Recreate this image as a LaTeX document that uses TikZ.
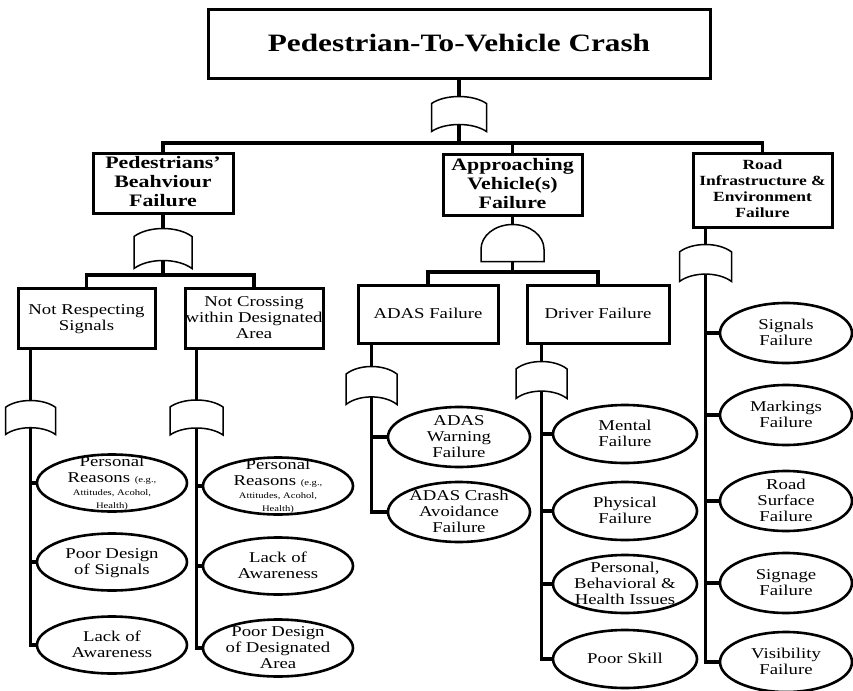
\documentclass[tikz,border=0pt]{standalone}
\usepackage{fontspec}
\setmainfont{Liberation Serif}[FakeStretch=1.25]
\usetikzlibrary{shapes.geometric}

\newcommand{\gtxt}[1]{\makebox[0pt]{\smash{\raisebox{-0.3em}{\begin{tabular}{@{}c@{}}#1\end{tabular}}}}}
\newcommand{\tinytxt}[1]{{\fontsize{8.5}{10}\selectfont #1}}

\tikzset{
  conn/.style={line width=3.2pt},
  box/.style={draw, line width=3pt, fill=white, inner sep=0pt},
  mainbox/.style={box, font=\bfseries\fontsize{17.5}{19}\selectfont},
  subbox/.style={box, font=\fontsize{15}{16}\selectfont},
  leaf/.style={draw, ellipse, line width=2.6pt, fill=white, inner sep=0pt, minimum height=58pt, font=\fontsize{15}{16}\selectfont},
  gate/.style={line width=1.5pt, fill=white},
  pics/orgate/.style args={#1/#2}{code={
    \draw[gate] (-#1/2,#2/2) -- (-#1/2,-3*#2/10) .. controls (-#1/4,-17*#2/30) and (#1/4,-17*#2/30) .. (#1/2,-3*#2/10) -- (#1/2,#2/2) .. controls (#1/4,7*#2/30) and (-#1/4,7*#2/30) .. (-#1/2,#2/2) -- cycle;
  }},
  pics/andgate/.style args={#1/#2}{code={
    \draw[gate] (-#1/2,#2/2) -- (-#1/2,#2/6) arc[start angle=180, end angle=360, x radius=#1/2, y radius=2*#2/3] -- (#1/2,#2/2) -- cycle;
  }},
}

\begin{document}
\begin{tikzpicture}[x=1pt, y=-1pt]

\useasboundingbox (0,0) rectangle (853,690);

\node[box, minimum width=502pt, minimum height=69pt, font=\bfseries\fontsize{25}{28}\selectfont] (crash) at (459,44.5) {\gtxt{Pedestrian-To-Vehicle Crash}};

\node[mainbox, minimum width=140pt, minimum height=60pt] (pbf) at (163,183) {\gtxt{Pedestrians'\\Beahviour\\Failure}};
\node[mainbox, minimum width=139pt, minimum height=61pt] (avf) at (512.5,184.5) {\gtxt{Approaching\\Vehicle(s)\\Failure}};
\node[box, minimum width=139pt, minimum height=74pt, font=\bfseries\fontsize{14}{16}\selectfont] (rief) at (762.5,190) {\gtxt{Road\\Infrastructure \&\\Environment\\Failure}};

\node[subbox, minimum width=137pt, minimum height=60pt] (nrs) at (86.5,318) {\gtxt{Not Respecting\\Signals}};
\node[subbox, minimum width=138pt, minimum height=60pt] (ncd) at (254,318) {\gtxt{Not Crossing\\within Designated\\Area}};
\node[subbox, minimum width=140pt, minimum height=58pt] (adas) at (428,314) {\gtxt{ADAS Failure}};
\node[subbox, minimum width=142pt, minimum height=58pt] (drv) at (598,314) {\gtxt{Driver Failure}};

\node[leaf, minimum width=150pt, minimum height=57pt] (nr1) at (112,483) {\gtxt{Personal\\Reasons \tinytxt{(e.g.,}\\[-3pt]\tinytxt{Attitudes, Acohol,}\\[-3pt]\tinytxt{Health)}}};
\node[leaf, minimum width=150pt, minimum height=57pt] (nr2) at (112,562) {\gtxt{Poor Design\\of Signals}};
\node[leaf, minimum width=150pt, minimum height=57pt] (nr3) at (112,645) {\gtxt{Lack of\\Awareness}};

\node[leaf, minimum width=150pt, minimum height=57pt] (nc1) at (278,486) {\gtxt{Personal\\Reasons \tinytxt{(e.g.,}\\[-3pt]\tinytxt{Attitudes, Acohol,}\\[-3pt]\tinytxt{Health)}}};
\node[leaf, minimum width=150pt, minimum height=57pt] (nc2) at (278,566) {\gtxt{Lack of\\Awareness}};
\node[leaf, minimum width=150pt, minimum height=57pt] (nc3) at (278,648) {\gtxt{Poor Design\\of Designated\\Area}};

\node[leaf, minimum width=142pt, minimum height=60pt] (ad1) at (459,437) {\gtxt{ADAS\\Warning\\Failure}};
\node[leaf, minimum width=142pt, minimum height=60pt] (ad2) at (459,512) {\gtxt{ADAS Crash\\Avoidance\\Failure}};

\node[leaf, minimum width=144pt] (dr1) at (625,434) {\gtxt{Mental\\Failure}};
\node[leaf, minimum width=144pt] (dr2) at (625,511) {\gtxt{Physical\\Failure}};
\node[leaf, minimum width=144pt] (dr3) at (625,584) {\gtxt{Personal,\\Behavioral \&\\Health Issues}};
\node[leaf, minimum width=144pt] (dr4) at (625,659) {\gtxt{Poor Skill}};

\node[leaf, minimum width=132pt, minimum height=60pt] (rf1) at (786,333) {\gtxt{Signals\\Failure}};
\node[leaf, minimum width=132pt, minimum height=60pt] (rf2) at (786,415) {\gtxt{Markings\\Failure}};
\node[leaf, minimum width=132pt, minimum height=60pt] (rf3) at (786,501) {\gtxt{Road\\Surface\\Failure}};
\node[leaf, minimum width=132pt, minimum height=60pt] (rf4) at (786,583) {\gtxt{Signage\\Failure}};
\node[leaf, minimum width=132pt, minimum height=60pt] (rf5) at (786,662) {\gtxt{Visibility\\Failure}};

\coordinate (b0) at (459,143);
\draw[conn] (crash.south) -- (b0);
\draw[conn] (pbf.north) |- (b0) -| (rief.north);
\draw[conn] (avf.north) -- (avf.north |- b0);

\coordinate (b1) at (163,275);
\draw[conn] (pbf.south) -- (b1);
\draw[conn] (nrs.north) |- (b1) -| (ncd.north);

\coordinate (b2) at (512.5,272);
\draw[conn] (avf.south) -- (b2);
\draw[conn] (adas.north) |- (b2) -| (drv.north);

\coordinate (ns) at ([xshift=14pt]nrs.south west);
\coordinate (cs) at ([xshift=13pt]ncd.south west);
\coordinate (as) at ([xshift=15pt]adas.south west);
\coordinate (ds) at ([xshift=16pt]drv.south west);
\coordinate (rs) at ([xshift=14pt]rief.south west);

\draw[conn] (ns) |- (nr3.west);
\draw[conn] (cs) |- (nc3.west);
\draw[conn] (as) |- (ad2.west);
\draw[conn] (ds) |- (dr4.west);
\draw[conn] (rs) |- (rf5.west);
\foreach \n/\s in {nr1/ns, nr2/ns, nc1/cs, nc2/cs, ad1/as, dr1/ds, dr2/ds, dr3/ds, rf1/rs, rf2/rs, rf3/rs, rf4/rs}
  \draw[conn] (\n.west) -- (\n.west -| \s);

\pic at ([yshift=-33.5pt]crash.south) {orgate=55/35};
\pic at ([yshift=-34pt]pbf.south) {orgate=58/40};
\pic at ([yshift=-26.5pt]avf.south) {andgate=63/37};
\pic at ([yshift=-34.5pt]rs) {orgate=52/37};
\pic at ([yshift=-68pt]ns) {orgate=50/34};
\pic at ([yshift=-68pt]cs) {orgate=53/35};
\pic at ([yshift=-41pt]as) {orgate=51/38};
\pic at ([yshift=-35.5pt]ds) {orgate=51/37};

\end{tikzpicture}
\end{document}
